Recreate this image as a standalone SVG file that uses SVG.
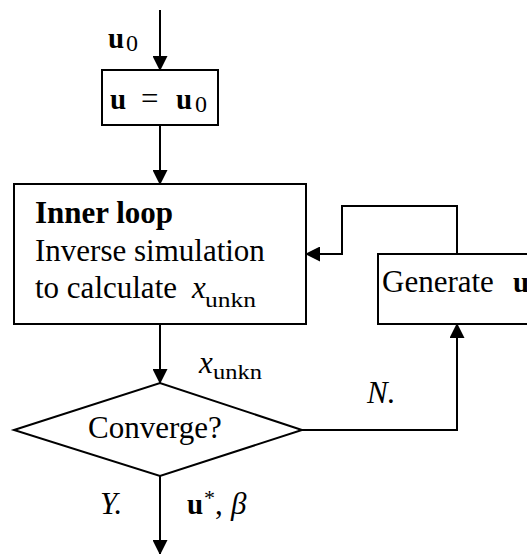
<svg xmlns="http://www.w3.org/2000/svg" width="527" height="554" viewBox="0 0 527 554">
<style>
.ln{fill:none;stroke:#000;stroke-width:2}
.bx{fill:#fff;stroke:#000;stroke-width:2}
text{font-family:"Liberation Serif","Times New Roman",serif;fill:#000}
.t{font-size:31px}
.b{font-weight:bold}
.i{font-style:italic}
.s{font-size:22px}
.z{font-size:24px}
</style>
<defs>
<marker id="ah" markerUnits="userSpaceOnUse" markerWidth="15" markerHeight="15" refX="14" refY="7.5" orient="auto">
<path d="M0,0 L15,7.5 L0,15 z" fill="#000"/>
</marker>
</defs>
<g id="connectors">
<line class="ln" x1="160" y1="10" x2="160" y2="70" marker-end="url(#ah)"/>
<line class="ln" x1="160" y1="125" x2="160" y2="184" marker-end="url(#ah)"/>
<line class="ln" x1="160" y1="324" x2="160" y2="383" marker-end="url(#ah)"/>
<line class="ln" x1="160" y1="476" x2="160" y2="554" marker-end="url(#ah)"/>
<polyline class="ln" points="302,430 457,430 457,324" marker-end="url(#ah)"/>
<polyline class="ln" points="457,254 457,206 342,206 342,254 306,254" marker-end="url(#ah)"/>
<g id="labels">
<text x="108" y="48" class="b" font-size="29">u</text>
<text x="126" y="51" class="z">0</text>
<text x="199" y="373" class="t i">x</text>
<text x="213" y="379" class="s" textLength="49" lengthAdjust="spacingAndGlyphs">unkn</text>
<text x="367" y="403" class="t i">N.</text>
<text x="100" y="514" class="t i">Y.</text>
<text x="187" y="514" class="b" font-size="29">u</text>
<text x="204" y="505" class="s">*</text>
<text x="215" y="514" class="t">,</text>
<text x="231" y="514" class="t i">β</text>
</g>
</g>
<g id="init">
<rect class="bx" x="102" y="70" width="116" height="55"/>
<text x="110" y="109" class="b" font-size="29">u</text>
<text x="141" y="109" font-size="31">=</text>
<text x="176" y="109" class="b" font-size="29">u</text>
<text x="195" y="112" class="z">0</text>
</g>
<g id="inner">
<rect class="bx" x="14" y="184" width="292" height="140"/>
<text x="35" y="223" class="t b">Inner loop</text>
<text x="35" y="261" class="t">Inverse simulation</text>
<text x="35" y="298" class="t">to calculate</text>
<text x="192" y="298" class="t i">x</text>
<text x="205" y="307" class="s" textLength="51" lengthAdjust="spacingAndGlyphs">unkn</text>
</g>
<g id="generate">
<rect class="bx" x="378" y="254" width="170" height="70"/>
<text x="382" y="292" class="t">Generate</text>
<text x="513" y="292" class="b" font-size="29">u</text>
</g>
<g id="converge">
<polygon class="bx" points="14,430 160,383 302,430 160,476"/>
<text x="88" y="438" class="t">Converge?</text>
</g>
</svg>
